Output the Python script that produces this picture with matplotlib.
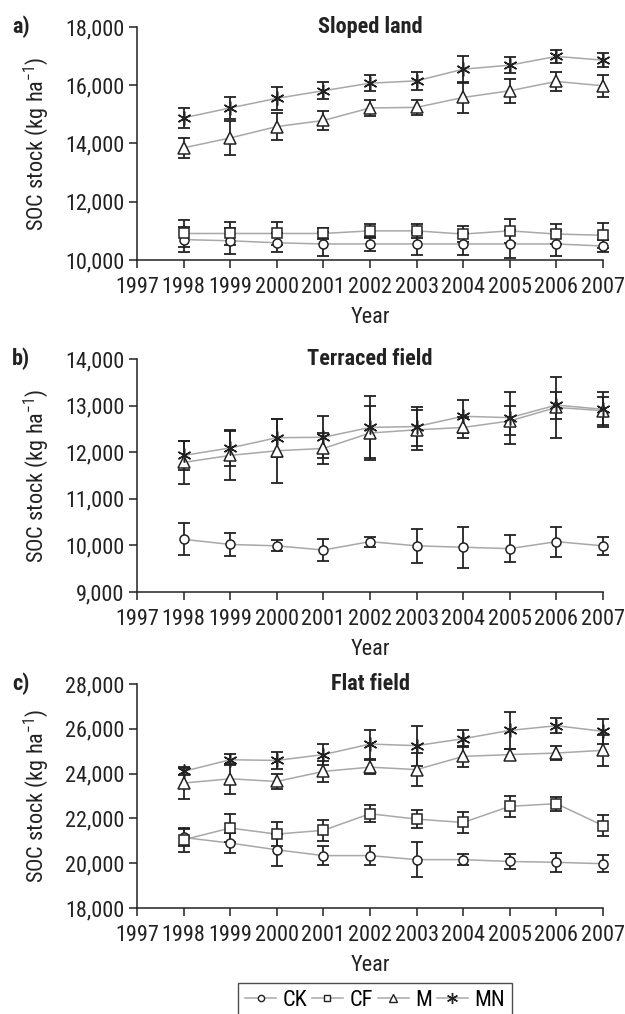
import matplotlib
matplotlib.use('Agg')
import matplotlib.pyplot as plt
from matplotlib.lines import Line2D

plt.rcParams['font.family'] = ['Roboto Condensed', 'DejaVu Sans']
plt.rcParams['mathtext.fontset'] = 'custom'
plt.rcParams['mathtext.rm'] = 'Roboto Condensed'
plt.rcParams['mathtext.it'] = 'Roboto Condensed'

years = [1998, 1999, 2000, 2001, 2002, 2003, 2004, 2005, 2006, 2007]
treatments = ['CK', 'CF', 'M', 'MN']

# a) Sloped land
sloped_ck = [10700, 10660, 10590, 10550, 10550, 10550, 10550, 10550, 10550, 10480]
sloped_ck_err = [440, 450, 330, 410, 230, 390, 390, 490, 430, 220]
sloped_cf = [10910, 10910, 10910, 10910, 11000, 11000, 10890, 11000, 10890, 10850]
sloped_cf_err = [460, 400, 400, 200, 250, 230, 270, 400, 330, 430]
sloped_m = [13850, 14190, 14580, 14790, 15220, 15240, 15580, 15810, 16130, 15980]
sloped_m_err = [340, 590, 455, 330, 285, 255, 545, 415, 325, 385]
sloped_mn = [14880, 15220, 15550, 15810, 16070, 16150, 16550, 16690, 16990, 16860]
sloped_mn_err = [340, 380, 400, 300, 285, 310, 470, 285, 230, 245]

# b) Terraced field
terr_ck = [10130, 10020, 9990, 9900, 10080, 9990, 9960, 9930, 10080, 9990]
terr_ck_err = [340, 245, 120, 245, 110, 360, 440, 290, 320, 200]
terr_m = [11780, 11930, 12030, 12080, 12410, 12480, 12530, 12670, 12960, 12890]
terr_m_err = [470, 520, 690, 340, 580, 430, 220, 310, 660, 300]
terr_mn = [11930, 12090, 12310, 12320, 12530, 12550, 12770, 12740, 13010, 12920]
terr_mn_err = [310, 390, 410, 450, 665, 420, 360, 560, 290, 380]

# c) Flat field
flat_ck = [21150, 20900, 20600, 20340, 20340, 20160, 20160, 20080, 20040, 19980]
flat_ck_err = [400, 430, 710, 410, 430, 770, 260, 340, 430, 370]
flat_cf = [21050, 21570, 21300, 21470, 22210, 21970, 21820, 22540, 22660, 21680]
flat_cf_err = [540, 630, 540, 460, 380, 390, 470, 470, 310, 470]
flat_m = [23580, 23770, 23650, 24100, 24290, 24180, 24770, 24850, 24920, 25040]
flat_m_err = [710, 670, 330, 470, 300, 730, 470, 250, 310, 690]
flat_mn = [24100, 24620, 24590, 24850, 25320, 25250, 25560, 25930, 26140, 25890]
flat_mn_err = [150, 250, 390, 480, 650, 890, 390, 825, 330, 550]

markers = {'CK': 'o', 'CF': 's', 'M': '^', 'MN': (6, 2, 0)}
sizes = {'CK': 6.5, 'CF': 6.5, 'M': 8, 'MN': 10}

fig = plt.figure(figsize=(6.25, 10.14), dpi=100)

panels = [
    ('a)', 'Sloped land', (10000, 18000), [10000, 12000, 14000, 16000, 18000],
     [('CK', sloped_ck, sloped_ck_err), ('CF', sloped_cf, sloped_cf_err),
      ('M', sloped_m, sloped_m_err), ('MN', sloped_mn, sloped_mn_err)],
     [0.2192, 0.7436, 0.7456, 0.2298]),
    ('b)', 'Terraced field', (9000, 14000), [9000, 10000, 11000, 12000, 13000, 14000],
     [('CK', terr_ck, terr_ck_err), ('M', terr_m, terr_m_err), ('MN', terr_mn, terr_mn_err)],
     [0.2192, 0.4162, 0.7456, 0.2298]),
    ('c)', 'Flat field', (18000, 28000), [18000, 20000, 22000, 24000, 26000, 28000],
     [('CK', flat_ck, flat_ck_err), ('CF', flat_cf, flat_cf_err),
      ('M', flat_m, flat_m_err), ('MN', flat_mn, flat_mn_err)],
     [0.2192, 0.1045, 0.7456, 0.2209]),
]

for letter, title, ylim, yticks, series, rect in panels:
    ax = fig.add_axes(rect)
    for name, vals, errs in series:
        ax.plot(years, vals, color='#a8a8a8', lw=1.1, zorder=1, clip_on=False)
        ax.errorbar(years, vals, yerr=errs, fmt='none', ecolor='#222222',
                    elinewidth=1.3, capsize=4.5, capthick=1.3, zorder=2, clip_on=False)
        ax.plot(years, vals, ls='none', marker=markers[name], ms=sizes[name],
                mfc='white', mec='#222222', mew=1.1, zorder=3, clip_on=False)
    ax.set_xlim(1997, 2007)
    ax.set_ylim(*ylim)
    ax.set_xticks(range(1997, 2008))
    ax.set_yticks(yticks)
    ax.set_yticklabels(['{:,}'.format(t) for t in yticks])
    ax.spines['top'].set_visible(False)
    ax.spines['right'].set_visible(False)
    for s in ('left', 'bottom'):
        ax.spines[s].set_linewidth(1.1)
        ax.spines[s].set_color('#222222')
    ax.tick_params(direction='out', length=6, width=1.1, colors='#222222',
                   labelsize=16, pad=3)
    ax.tick_params(axis='x', pad=6)
    ax.set_ylabel('SOC stock (kg ha$^{-1}$)', fontsize=16, color='#222222', labelpad=10)
    ax.set_xlabel('Year', fontsize=16, color='#222222', labelpad=7)
    ax.text(0.5, 1.0, title, transform=ax.transAxes, ha='center', va='center',
            fontsize=16, fontweight='bold', color='#222222')
    ax.text(-0.268, 1.0, letter, transform=ax.transAxes, ha='left', va='center',
            fontsize=16, fontweight='bold', color='#222222')

handles = [Line2D([], [], color='#a8a8a8', lw=1.1, marker=markers[t], ms=sizes[t] - 2,
                  mfc='white', mec='#222222', mew=1.0) for t in treatments]
leg = fig.legend(handles, treatments, loc='upper center', ncol=4,
                 bbox_to_anchor=(375 / 625, 1 - 983 / 1014), frameon=True,
                 fancybox=False, edgecolor='#222222', fontsize=16,
                 handlelength=1.4, handletextpad=0.3, columnspacing=0.2,
                 borderpad=0.3, borderaxespad=0)
leg.get_frame().set_linewidth(1.0)

fig.savefig('out.png', dpi=100)
